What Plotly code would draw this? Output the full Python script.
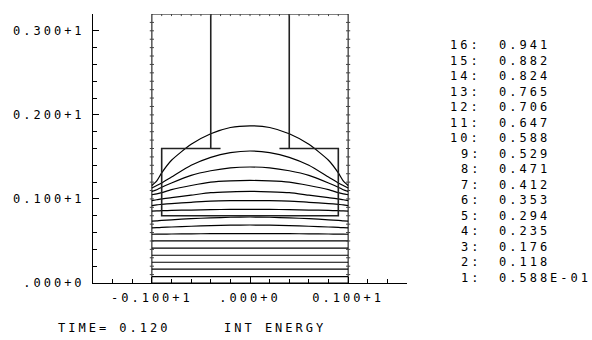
import plotly.graph_objects as go

# ---- contour lines of internal energy (half profiles, symmetric about x = 0) ----
X_HALF = [0.0, 0.2, 0.4, 0.6, 0.8, 0.9, 0.95, 1.0]

# rows ordered from the lowest contour line to the highest
CONTOUR_ROWS = [
    [0.077, 0.077, 0.077, 0.077, 0.077, 0.077, 0.077, 0.077],
    [0.164, 0.164, 0.164, 0.164, 0.164, 0.164, 0.164, 0.164],
    [0.247, 0.247, 0.247, 0.247, 0.247, 0.247, 0.247, 0.247],
    [0.330, 0.330, 0.330, 0.330, 0.330, 0.330, 0.330, 0.330],
    [0.414, 0.414, 0.414, 0.414, 0.414, 0.414, 0.414, 0.414],
    [0.500, 0.500, 0.500, 0.500, 0.500, 0.500, 0.500, 0.500],
    [0.588, 0.588, 0.587, 0.585, 0.583, 0.582, 0.581, 0.580],
    [0.690, 0.688, 0.683, 0.675, 0.666, 0.661, 0.658, 0.655],
    [0.785, 0.782, 0.775, 0.765, 0.752, 0.745, 0.740, 0.737],
    [0.876, 0.876, 0.872, 0.868, 0.865, 0.860, 0.858, 0.855],
    [0.980, 0.980, 0.975, 0.960, 0.945, 0.935, 0.930, 0.920],
    [1.090, 1.085, 1.075, 1.045, 1.015, 1.000, 0.990, 0.980],
    [1.220, 1.215, 1.200, 1.160, 1.110, 1.075, 1.060, 1.050],
    [1.380, 1.370, 1.335, 1.280, 1.190, 1.140, 1.110, 1.090],
    [1.570, 1.550, 1.495, 1.400, 1.260, 1.190, 1.160, 1.130],
    [1.870, 1.850, 1.775, 1.650, 1.460, 1.310, 1.215, 1.160],
]

# ---- material / mesh boundaries (x list, y list per segment) ----
OUTER_BOX = ([-1.0, -1.0, 1.0, 1.0, -1.0], [0.0, 3.2, 3.2, 0.0, 0.0])
BOUNDARY_SEGMENTS = [
    ([-0.4, -0.4], [3.2, 1.6]),
    ([0.4, 0.4], [3.2, 1.6]),
    ([-0.3, -0.9, -0.9, 0.9, 0.9, 0.3], [1.6, 1.6, 0.8, 0.8, 1.6, 1.6]),
]
# zone marks along the outer walls and the lid
WALL_MARK_Y = [i / 10 for i in range(1, 32)]
LID_MARK_X = [i / 10 for i in range(-9, 10)]

# ---- axis ticks ----
X_TICKS = [-1.0, 0.0, 1.0]
X_TICK_TEXT = ["-0.100+1", ".000+0", "0.100+1"]
Y_TICKS = [0.0, 1.0, 2.0, 3.0]
Y_TICK_TEXT = [".000+0", "0.100+1", "0.200+1", "0.300+1"]

# ---- contour level table ----
LEVEL_NUMBERS = ["16:", "15:", "14:", "13:", "12:", "11:", "10:", "9:", "8:",
                 "7:", "6:", "5:", "4:", "3:", "2:", "1:"]
LEVEL_VALUES = ["0.941", "0.882", "0.824", "0.765", "0.706", "0.647", "0.588",
                "0.529", "0.471", "0.412", "0.353", "0.294", "0.235", "0.176",
                "0.118", "0.588E-01"]

TIME_LABEL = "TIME= 0.120"
FIELD_LABEL = "INT ENERGY"

W, H = 592, 340
ML, MR, MT, MB = 93, 185, 14, 57
PW, PH = W - ML - MR, H - MT - MB
X0, X1, Y0, Y1 = -1.6, 1.6, 0.0, 3.2
LETTER_SPACING = 3.0
FONT = dict(family="DejaVu Sans Mono", size=12, color="black")


def paper_x(px):
    return (px - ML) / PW


def paper_y(py):
    return (H - MB - py) / PH


fig = go.Figure()

x_full = [-x for x in X_HALF[::-1]] + X_HALF[1:]
for row in CONTOUR_ROWS:
    y_full = row[::-1] + row[1:]
    fig.add_trace(go.Scatter(x=x_full, y=y_full, mode="lines",
                             line=dict(color="black", width=1.2, shape="spline", smoothing=0.6),
                             hoverinfo="skip", showlegend=False))

fig.add_trace(go.Scatter(x=OUTER_BOX[0], y=OUTER_BOX[1], mode="lines",
                         line=dict(color="black", width=1), hoverinfo="skip",
                         showlegend=False))
for xs, ys in BOUNDARY_SEGMENTS:
    fig.add_trace(go.Scatter(x=xs, y=ys, mode="lines",
                             line=dict(color="#222", width=1.6), hoverinfo="skip",
                             showlegend=False))
fig.add_trace(go.Scatter(x=[-1.0] * len(WALL_MARK_Y) + [1.0] * len(WALL_MARK_Y),
                         y=WALL_MARK_Y + WALL_MARK_Y, mode="markers",
                         marker=dict(symbol="line-ew", size=3, line=dict(width=1, color="#444")),
                         hoverinfo="skip", showlegend=False))
fig.add_trace(go.Scatter(x=LID_MARK_X, y=[3.2] * len(LID_MARK_X), mode="markers",
                         marker=dict(symbol="line-ns", size=3, line=dict(width=1, color="#444")),
                         hoverinfo="skip", showlegend=False))

annotations = []
for i, (num, val) in enumerate(zip(LEVEL_NUMBERS, LEVEL_VALUES)):
    py = 45 + i * 15.53
    annotations.append(dict(x=paper_x(480), y=paper_y(py), xref="paper", yref="paper",
                            text=num, showarrow=False, xanchor="right",
                            yanchor="middle", font=FONT))
    annotations.append(dict(x=paper_x(497), y=paper_y(py), xref="paper", yref="paper",
                            text=val, showarrow=False, xanchor="left",
                            yanchor="middle", font=FONT))
annotations.append(dict(x=paper_x(56), y=paper_y(328), xref="paper", yref="paper",
                        text=TIME_LABEL, showarrow=False, xanchor="left",
                        yanchor="middle", font=FONT))
annotations.append(dict(x=paper_x(222), y=paper_y(328), xref="paper", yref="paper",
                        text=FIELD_LABEL, showarrow=False, xanchor="left",
                        yanchor="middle", font=FONT))

axis_common = dict(showgrid=False, zeroline=False, showline=True, linecolor="black",
                   linewidth=1, ticks="inside", ticklen=6, tickcolor="black",
                   tickfont=FONT)
fig.update_layout(
    width=W, height=H,
    margin=dict(l=ML, r=MR, t=MT, b=MB),
    paper_bgcolor="white", plot_bgcolor="white",
    xaxis=dict(range=[X0, X1], tickvals=X_TICKS, ticktext=X_TICK_TEXT,
               minor=dict(dtick=0.2, tick0=0, ticks="inside", ticklen=4, tickcolor="black"),
               ticklabelstandoff=4, **axis_common),
    yaxis=dict(range=[Y0, Y1], tickvals=Y_TICKS, ticktext=Y_TICK_TEXT,
               minor=dict(dtick=0.2, tick0=0, ticks="inside", ticklen=4, tickcolor="black"),
               ticklabelstandoff=5, **axis_common),
    annotations=annotations,
    showlegend=False,
)

# Plotter-style wide lettering: widen every label, keeping annotation edges
# anchored on the side given by their xanchor.
spacing_js = """
(function(){
  var LS = %s;
  var gd = document.getElementById('{plot_id}');
  var anns = gd._fullLayout.annotations;
  gd.querySelectorAll('g.annotation').forEach(function(g){
    var a = anns[+g.getAttribute('data-index')];
    var t = g.querySelector('text.annotation-text');
    if (!a || !t) return;
    var b = t.getBBox();
    t.style.letterSpacing = LS + 'px';
    if (a.xanchor === 'left') {
      t.setAttribute('text-anchor', 'start'); t.setAttribute('x', b.x);
    } else if (a.xanchor === 'right') {
      t.setAttribute('text-anchor', 'end'); t.setAttribute('x', b.x + b.width + LS);
    }
  });
  gd.querySelectorAll('svg.main-svg text').forEach(function(t){
    t.style.letterSpacing = LS + 'px';
  });
})();
""" % LETTER_SPACING
fig.write_html("out.html", post_script=spacing_js)
